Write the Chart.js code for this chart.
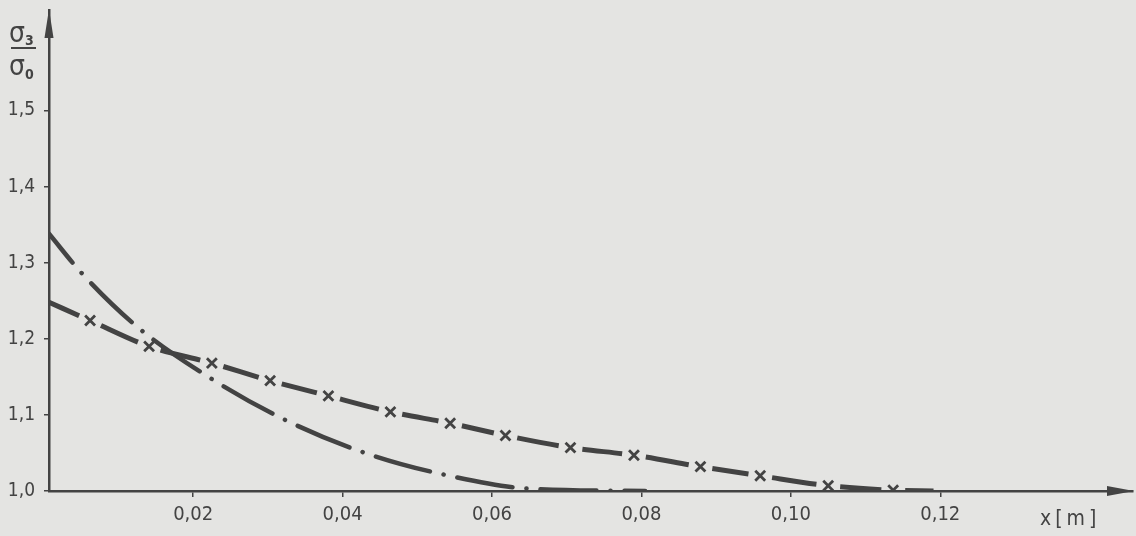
<!DOCTYPE html>
<html>
<head>
<meta charset="utf-8">
<script src="https://cdn.jsdelivr.net/npm/chart.js@4"></script>
<style>
  html, body { margin: 0; padding: 0; background: #e4e4e2; }
  canvas { display: block; }
</style>
</head>
<body>
<canvas id="c" width="1136" height="536"></canvas>
<script>
// ---- data ----
// curve with "x" markers (dashed)
const xMarked = [0.0007, 0.0062, 0.0141, 0.0225, 0.0303, 0.0381, 0.0464, 0.0544, 0.0618, 0.0705, 0.0790, 0.0879, 0.0959, 0.1050, 0.1137, 0.1191];
const yMarked = [1.248, 1.224, 1.190, 1.168, 1.145, 1.125, 1.104, 1.089, 1.073, 1.057, 1.047, 1.032, 1.020, 1.007, 1.001, 1.000];
// dash-dot curve
const xDashDot = [0.0007, 0.0051, 0.0126, 0.0217, 0.0324, 0.0436, 0.0543, 0.0651, 0.0805];
const yDashDot = [1.338, 1.286, 1.215, 1.152, 1.093, 1.048, 1.020, 1.003, 1.000];
// ticks
const xTicks = [0.02, 0.04, 0.06, 0.08, 0.10, 0.12];
const xTickLabels = ['0,02', '0,04', '0,06', '0,08', '0,10', '0,12'];
const yTicks = [1.0, 1.1, 1.2, 1.3, 1.4, 1.5];
const yTickLabels = ['1,0', '1,1', '1,2', '1,3', '1,4', '1,5'];
const xAxisLabel = 'x[m]';
const xMin = 0.0007, xMax = 0.1458, yMin = 1.0, yMax = 1.632;

const INK = '#434343';
const FONT = '"DejaVu Sans Condensed", "DejaVu Sans", sans-serif';
const MARK_GAP = 12;

// one dash per segment between markers, gap around each marker
function segDash(c) {
  const d = Math.hypot(c.p1.x - c.p0.x, c.p1.y - c.p0.y);
  const last = xMarked.length - 1;
  const g0 = c.p0DataIndex === 0 ? 0 : MARK_GAP;
  const g1 = c.p1DataIndex === last ? 0 : MARK_GAP;
  return [0.001, g0, Math.max(1, d - g0 - g1 + 0.01 * c.p0DataIndex), 2000];
}

const decor = {
  id: 'decor',
  beforeDraw(chart) {
    const ctx = chart.ctx;
    ctx.save();
    ctx.fillStyle = '#e4e4e2';
    ctx.fillRect(0, 0, chart.width, chart.height);
    ctx.restore();
  },
  afterDraw(chart) {
    const ctx = chart.ctx;
    const a = chart.chartArea;
    ctx.save();
    ctx.fillStyle = INK;
    // y arrow
    ctx.beginPath();
    ctx.moveTo(a.left, a.top - 1);
    ctx.lineTo(a.left - 4.5, a.top + 28);
    ctx.lineTo(a.left + 4.5, a.top + 28);
    ctx.closePath();
    ctx.fill();
    // x arrow
    ctx.beginPath();
    ctx.moveTo(a.right + 1, a.bottom);
    ctx.lineTo(a.right - 26, a.bottom - 5);
    ctx.lineTo(a.right - 26, a.bottom + 5);
    ctx.closePath();
    ctx.fill();
    // x axis label
    ctx.font = '21px ' + FONT;
    ctx.letterSpacing = '4px';
    ctx.textAlign = 'left';
    ctx.textBaseline = 'middle';
    ctx.fillText(xAxisLabel, a.right - 93, a.bottom + 29);
    ctx.letterSpacing = '0px';
    // y axis title: sigma3 / sigma0
    ctx.font = '28px ' + FONT;
    ctx.textBaseline = 'alphabetic';
    ctx.fillText('σ', 9, 42);
    ctx.font = 'bold 14px ' + FONT;
    ctx.fillText('3', 25, 45);
    ctx.fillRect(11, 47, 25, 2);
    ctx.font = '28px ' + FONT;
    ctx.fillText('σ', 9, 75);
    ctx.font = 'bold 14px ' + FONT;
    ctx.fillText('0', 25, 79);
    ctx.restore();
  }
};

new Chart(document.getElementById('c'), {
  type: 'line',
  data: {
    datasets: [
      {
        label: 'marked',
        data: xMarked.map((x, i) => ({ x: x, y: yMarked[i] })),
        borderColor: INK,
        borderWidth: 5,
        borderCapStyle: 'butt',
        cubicInterpolationMode: 'monotone',
        segment: { borderDash: segDash },
        pointStyle: 'crossRot',
        pointRadius: (c) => (c.dataIndex === 0 || c.dataIndex === xMarked.length - 1) ? 0 : 7,
        pointBorderWidth: 2.8,
        pointBorderColor: INK,
        pointBackgroundColor: INK,
        fill: false
      },
      {
        label: 'dashdot',
        data: xDashDot.map((x, i) => ({ x: x, y: yDashDot[i] })),
        borderColor: INK,
        borderWidth: 4.5,
        borderDash: [56, 14, 0.1, 14],
        borderDashOffset: 19,
        borderCapStyle: 'round',
        cubicInterpolationMode: 'monotone',
        pointRadius: 0,
        fill: false
      }
    ]
  },
  options: {
    responsive: false,
    animation: false,
    devicePixelRatio: 1,
    layout: { padding: { top: 0, right: 3, left: 0, bottom: 0 } },
    plugins: { legend: { display: false }, tooltip: { enabled: false } },
    scales: {
      x: {
        type: 'linear',
        min: xMin, max: xMax,
        afterFit(s) { s.height = 45; s.paddingLeft = 0; s.paddingRight = 0; },
        afterBuildTicks(s) { s.ticks = xTicks.map(v => ({ value: v })); },
        ticks: {
          callback: (v, i) => xTickLabels[i],
          color: INK,
          font: { family: FONT, size: 20 },
          padding: 6,
          maxRotation: 0,
          autoSkip: false
        },
        grid: { drawOnChartArea: false, drawTicks: true, tickLength: 6, color: INK, lineWidth: 1.5 },
        border: { display: true, color: INK, width: 2.5 }
      },
      y: {
        type: 'linear',
        min: yMin, max: yMax,
        afterFit(s) { s.width = 49; s.paddingTop = 10; s.paddingBottom = 0; },
        afterBuildTicks(s) { s.ticks = yTicks.map(v => ({ value: v })); },
        ticks: {
          callback: (v, i) => yTickLabels[i],
          color: INK,
          font: { family: FONT, size: 19 },
          padding: 9,
          autoSkip: false
        },
        grid: { drawOnChartArea: false, drawTicks: true, tickLength: 5, color: INK, lineWidth: 1.5 },
        border: { display: true, color: INK, width: 2.5 }
      }
    }
  },
  plugins: [decor]
});
</script>
</body>
</html>
